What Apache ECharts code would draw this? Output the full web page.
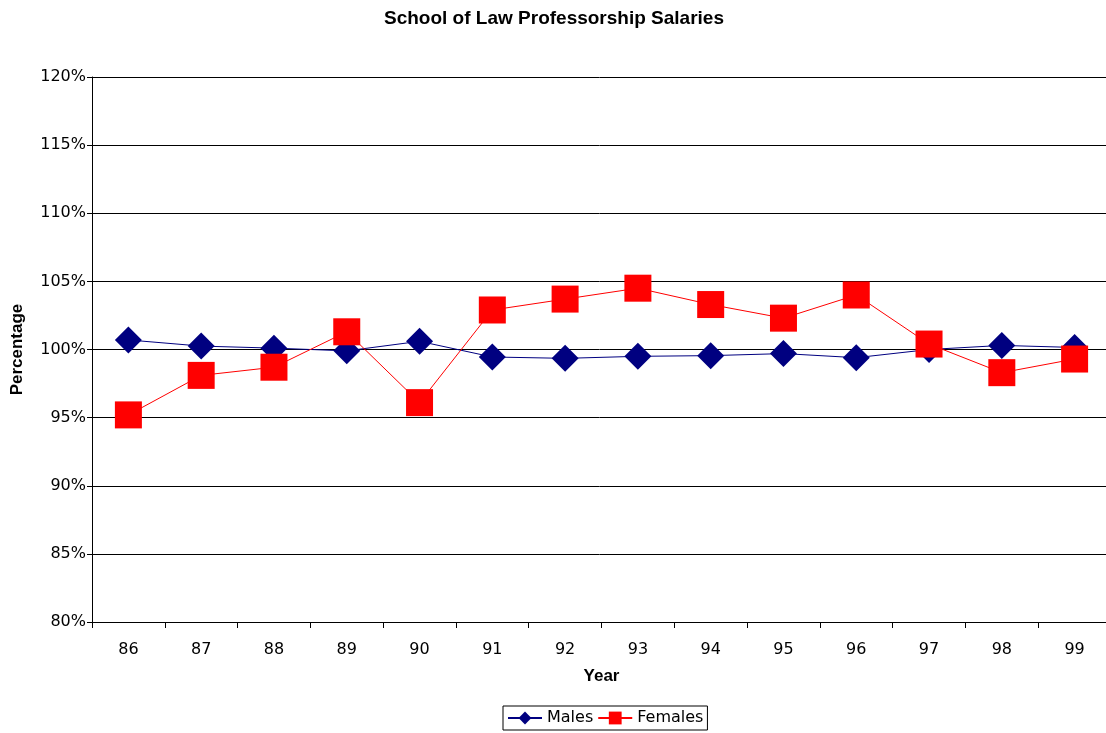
<!DOCTYPE html>
<html><head><meta charset="utf-8">
<script src="https://cdn.jsdelivr.net/npm/echarts@6/dist/echarts.min.js"></script>
<style>html,body{margin:0;padding:0;background:#fff}#c{width:1106px;height:733px}</style>
</head><body><div id="c"></div>
<script>
const years = ['86','87','88','89','90','91','92','93','94','95','96','97','98','99'];
const males = [100.7,100.25,100.1,99.9,100.6,99.45,99.35,99.5,99.55,99.7,99.4,100.0,100.3,100.15];
const females = [95.2,98.1,98.7,101.3,96.1,102.9,103.7,104.5,103.3,102.3,104.0,100.4,98.3,99.3];

const chart = echarts.init(document.getElementById('c'));
chart.setOption({
  animation:false,
  backgroundColor:'#fff',
  title:{text:'School of Law Professorship Salaries',left:549,textAlign:'center',top:4,
    textStyle:{fontFamily:'Liberation Sans',fontWeight:'bold',fontSize:19,color:'#000'}},
  grid:{left:92,right:-5,top:77,bottom:111,containLabel:false,outerBoundsMode:'none'},
  legend:{top:706,left:503,itemGap:4,itemWidth:34,itemHeight:16,
    borderColor:'#000',borderWidth:1,padding:[4,4,4,4],borderRadius:0,
    textStyle:{fontFamily:'DejaVu Sans',fontSize:16,color:'#000'},
    data:['Males','Females']},
  xAxis:{type:'category',data:years,boundaryGap:true,
    name:'Year',nameLocation:'middle',nameGap:46,
    nameTextStyle:{fontFamily:'Liberation Sans',fontWeight:'bold',fontSize:17,color:'#000'},
    axisLine:{lineStyle:{color:'#000',width:1}},
    axisTick:{show:true,length:6,lineStyle:{color:'#000'}},
    axisLabel:{fontFamily:'DejaVu Sans',fontSize:16,color:'#000',margin:20}},
  yAxis:{type:'value',min:80,max:120,interval:5,
    name:'Percentage',nameLocation:'middle',nameGap:66,nameRotate:90,
    nameTextStyle:{fontFamily:'Liberation Sans',fontWeight:'bold',fontSize:17,color:'#000'},
    axisLine:{show:true,lineStyle:{color:'#000',width:1}},
    axisTick:{show:true,length:5,lineStyle:{color:'#000'}},
    splitLine:{lineStyle:{color:'#000',width:1}},
    axisLabel:{fontFamily:'DejaVu Sans',fontSize:16,color:'#000',margin:6,formatter:v=>v+'%'}},
  series:[
    {name:'Males',type:'line',data:males,symbol:'diamond',symbolSize:27,
     lineStyle:{color:'#000080',width:1},itemStyle:{color:'#000080'}},
    {name:'Females',type:'line',data:females,symbol:'rect',symbolSize:27,
     lineStyle:{color:'#FF0000',width:1},itemStyle:{color:'#FF0000'}}
  ]
});
</script></body></html>
